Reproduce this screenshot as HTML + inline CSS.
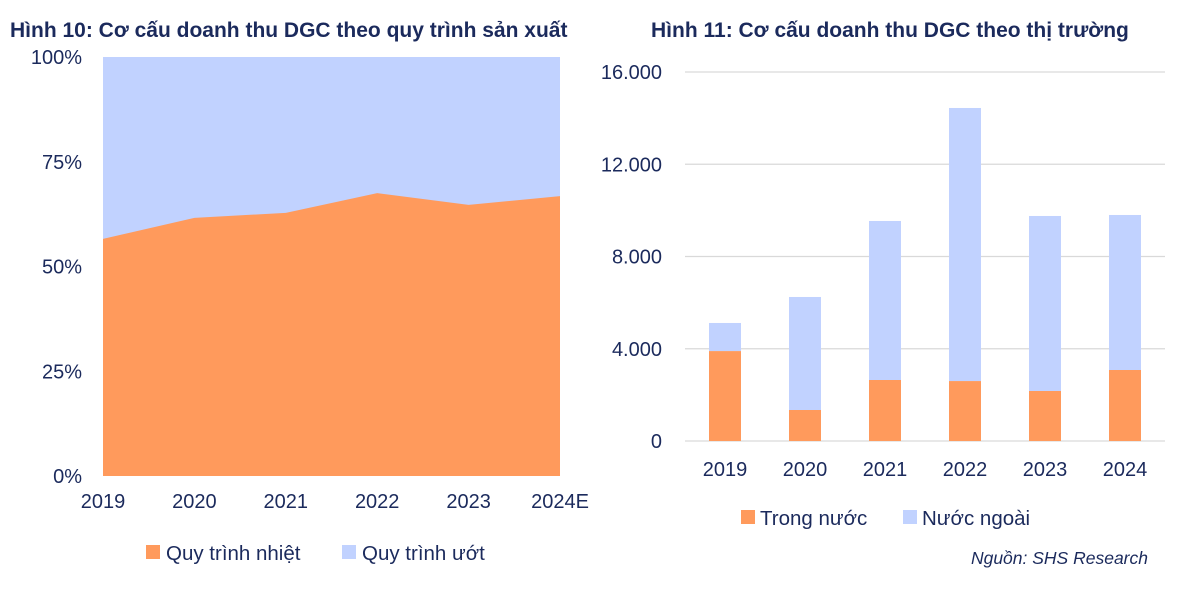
<!DOCTYPE html>
<html><head><meta charset="utf-8"><style>
body{margin:0;background:#fff;width:1193px;height:593px;overflow:hidden;font-family:"Liberation Sans",sans-serif;}
svg text{font-family:"Liberation Sans",sans-serif;}
</style></head><body>
<svg id="svg" width="1193" height="593" xmlns="http://www.w3.org/2000/svg">
<text x="10" y="37" font-size="21" font-weight="bold" fill="#1b2a5c">Hình 10: Cơ cấu doanh thu DGC theo quy trình sản xuất</text>
<text x="651" y="37" font-size="21" font-weight="bold" fill="#1b2a5c">Hình 11: Cơ cấu doanh thu DGC theo thị trường</text>
<g id="left"></g>
<g id="right"></g>
<text x="1148" y="564" font-size="17.5" font-style="italic" fill="#1b2a5c" text-anchor="end">Nguồn: SHS Research</text>
</svg>
<script>
const areaYears=["2019","2020","2021","2022","2023","2024E"];
const thermalPct=[56.6,61.6,62.8,67.5,64.7,66.8];
const pctTicks=[0,25,50,75,100];
const barYears=["2019","2020","2021","2022","2023","2024"];
const domestic=[3900,1344,2645,2600,2168,3079];
const foreign=[1217,4901,6895,11840,7589,6721];
const valTicks=[0,4000,8000,12000,16000];

const NS="http://www.w3.org/2000/svg";
function mk(parent,tag,attrs,txt){const e=document.createElementNS(NS,tag);for(const k in attrs)e.setAttribute(k,attrs[k]);if(txt!==undefined)e.textContent=txt;parent.appendChild(e);return e;}
const ORANGE="#ff9a5c",BLUE="#c1d2ff",TXT="#1b2a5c";

// left area chart
const L=document.getElementById('left');
const lx0=103,lx1=560,ly0=476,ly1=57;
const lx=i=>lx0+i*(lx1-lx0)/(areaYears.length-1);
const ly=v=>ly0-v/100*(ly0-ly1);
const bg=mk(L,'rect',{x:lx0,y:ly1,width:lx1-lx0,height:ly0-ly1,fill:BLUE});


let d=`M${lx(0)},${ly0}`;thermalPct.forEach((v,i)=>d+=` L${lx(i)},${ly(v)}`);d+=` L${lx(thermalPct.length-1)},${ly0} Z`;
const ar=mk(L,'path',{d:d,fill:ORANGE});


pctTicks.forEach(t=>{const e=mk(L,'text',{x:82,y:ly(t)+7,'font-size':20,fill:TXT,'text-anchor':'end'},t+'%');

});
areaYears.forEach((y,i)=>{const e=mk(L,'text',{x:lx(i),y:508,'font-size':20,fill:TXT,'text-anchor':'middle'},y);

});
[[146,ORANGE,'Quy trình nhiệt'],[342,BLUE,'Quy trình ướt']].forEach(([x,c,t])=>{
const g=mk(L,'g',{});


mk(g,'rect',{x:x,y:545,width:14,height:14,fill:c});mk(g,'text',{x:x+20,y:560,'font-size':20.5,fill:TXT},t);});

// right bar chart
const R=document.getElementById('right');
const rx0=685,rx1=1165,ry0=441,ry1=72;
const ry=v=>ry0-v/16000*(ry0-ry1);
const bw=(rx1-rx0)/barYears.length;
const bx=i=>rx0+bw*(i+0.5);
valTicks.forEach(t=>{const l=mk(R,'line',{x1:rx0,x2:rx1,y1:ry(t),y2:ry(t),stroke:'#d9d9d9','stroke-width':1.3});


const e=mk(R,'text',{x:662,y:ry(t)+7,'font-size':20,fill:TXT,'text-anchor':'end'},t.toLocaleString('de-DE'));

});
barYears.forEach((y,i)=>{
const a=mk(R,'rect',{x:bx(i)-16,y:ry(domestic[i]),width:32,height:ry0-ry(domestic[i]),fill:ORANGE});


const b=mk(R,'rect',{x:bx(i)-16,y:ry(domestic[i]+foreign[i]),width:32,height:ry(domestic[i])-ry(domestic[i]+foreign[i]),fill:BLUE});


const e=mk(R,'text',{x:bx(i),y:476,'font-size':20,fill:TXT,'text-anchor':'middle'},y);

});
[[741,ORANGE,'Trong nước'],[903,BLUE,'Nước ngoài']].forEach(([x,c,t])=>{
const g=mk(R,'g',{});


mk(g,'rect',{x:x,y:510,width:14,height:14,fill:c});mk(g,'text',{x:x+19,y:525,'font-size':20.5,fill:TXT},t);});
</script>
</body></html>
